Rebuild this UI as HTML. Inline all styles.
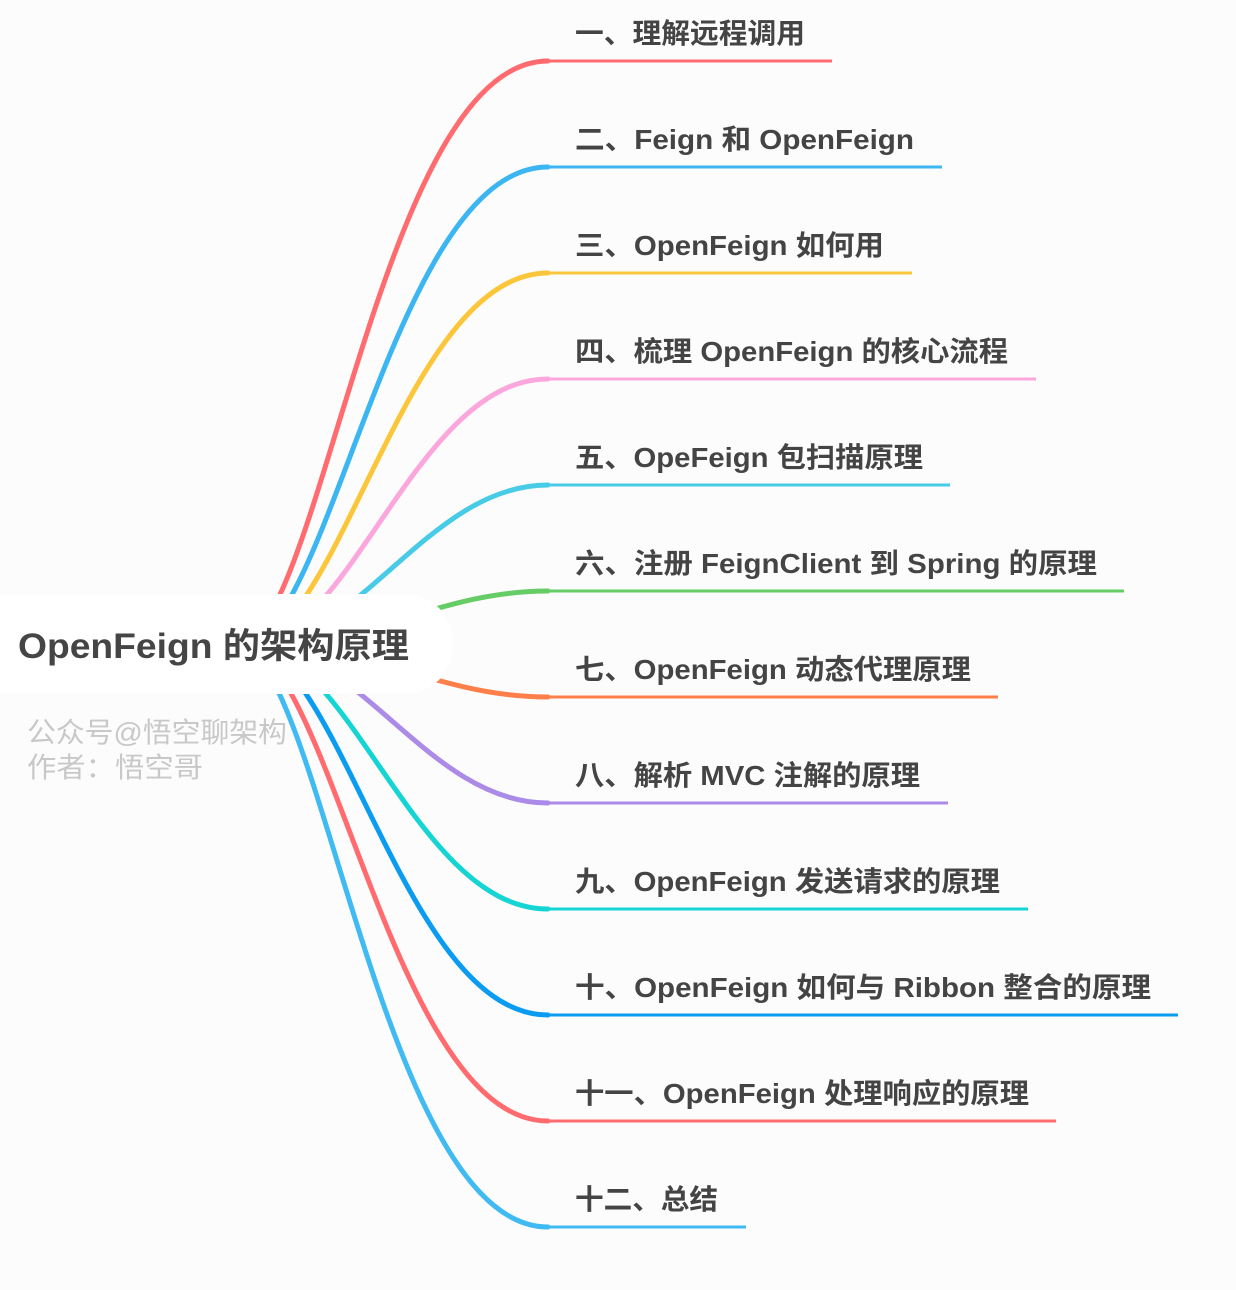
<!DOCTYPE html>
<html><head><meta charset="utf-8"><style>
html,body{margin:0;padding:0;background:#fcfcfc;}
body{width:1236px;height:1290px;position:relative;overflow:hidden;}
svg{position:absolute;left:0;top:0;}
.t{font-family:"Liberation Sans","Noto Sans CJK SC",sans-serif;font-weight:bold;font-size:28px;fill:#444;}
.w{font-family:"Liberation Sans","Noto Sans CJK SC",sans-serif;font-size:28px;fill:#c8c8c8;}
</style></head><body>
<svg width="1236" height="1290" viewBox="0 0 1236 1290">
<g fill="none" stroke-width="5" stroke-linecap="round">
<path d="M236,645 C320,645 380,61 548,61" stroke="#ff6b6e"/>
<path d="M240,645 C330,645 392,167 548,167" stroke="#3bb6f2"/>
<path d="M244,645 C340,645 404,273 548,273" stroke="#fcc63a"/>
<path d="M248,645 C350,645 416,379 548,379" stroke="#fba6dc"/>
<path d="M252,645 C360,645 428,485 548,485" stroke="#48cbe6"/>
<path d="M256,645 C370,645 440,591 548,591" stroke="#66cc66"/>
<path d="M256,645 C370,645 440,697 548,697" stroke="#ff7f4a"/>
<path d="M252,645 C360,645 428,803 548,803" stroke="#ab8ae8"/>
<path d="M248,645 C350,645 416,909 548,909" stroke="#14d4d4"/>
<path d="M244,645 C340,645 404,1015 548,1015" stroke="#0a9cf0"/>
<path d="M240,645 C330,645 392,1121 548,1121" stroke="#ff6b6e"/>
<path d="M236,645 C320,645 380,1227 548,1227" stroke="#40baf2"/>
</g>
<g stroke-width="3">
<line x1="546" y1="61" x2="832" y2="61" stroke="#ff6b6e"/>
<line x1="546" y1="167" x2="942" y2="167" stroke="#3bb6f2"/>
<line x1="546" y1="273" x2="912" y2="273" stroke="#fcc63a"/>
<line x1="546" y1="379" x2="1036" y2="379" stroke="#fba6dc"/>
<line x1="546" y1="485" x2="950" y2="485" stroke="#48cbe6"/>
<line x1="546" y1="591" x2="1124" y2="591" stroke="#66cc66"/>
<line x1="546" y1="697" x2="998" y2="697" stroke="#ff7f4a"/>
<line x1="546" y1="803" x2="948" y2="803" stroke="#ab8ae8"/>
<line x1="546" y1="909" x2="1028" y2="909" stroke="#14d4d4"/>
<line x1="546" y1="1015" x2="1178" y2="1015" stroke="#0a9cf0"/>
<line x1="546" y1="1121" x2="1056" y2="1121" stroke="#ff6b6e"/>
<line x1="546" y1="1227" x2="746" y2="1227" stroke="#40baf2"/>
</g>
<rect x="-40" y="594" width="493" height="100" rx="48" fill="#ffffff"/>
<text x="18" y="658" textLength="391" lengthAdjust="spacingAndGlyphs" font-family="Liberation Sans,'Noto Sans CJK SC',sans-serif" font-weight="bold" font-size="35" fill="#454545">OpenFeign 的架构原理</text>
<text class="w" x="27" y="742" textLength="260" lengthAdjust="spacingAndGlyphs">公众号@悟空聊架构</text>
<text class="w" x="27" y="777" textLength="176" lengthAdjust="spacingAndGlyphs">作者：悟空哥</text>
<text class="t" x="575" y="43" textLength="230" lengthAdjust="spacingAndGlyphs">一、理解远程调用</text>
<text class="t" x="575" y="149" textLength="339" lengthAdjust="spacingAndGlyphs">二、Feign 和 OpenFeign</text>
<text class="t" x="575" y="255" textLength="309" lengthAdjust="spacingAndGlyphs">三、OpenFeign 如何用</text>
<text class="t" x="575" y="361" textLength="433" lengthAdjust="spacingAndGlyphs">四、梳理 OpenFeign 的核心流程</text>
<text class="t" x="575" y="467" textLength="348" lengthAdjust="spacingAndGlyphs">五、OpeFeign 包扫描原理</text>
<text class="t" x="575" y="573" textLength="522" lengthAdjust="spacingAndGlyphs">六、注册 FeignClient 到 Spring 的原理</text>
<text class="t" x="575" y="679" textLength="396" lengthAdjust="spacingAndGlyphs">七、OpenFeign 动态代理原理</text>
<text class="t" x="575" y="785" textLength="345" lengthAdjust="spacingAndGlyphs">八、解析 MVC 注解的原理</text>
<text class="t" x="575" y="891" textLength="425" lengthAdjust="spacingAndGlyphs">九、OpenFeign 发送请求的原理</text>
<text class="t" x="575" y="997" textLength="576" lengthAdjust="spacingAndGlyphs">十、OpenFeign 如何与 Ribbon 整合的原理</text>
<text class="t" x="575" y="1103" textLength="454" lengthAdjust="spacingAndGlyphs">十一、OpenFeign 处理响应的原理</text>
<text class="t" x="575" y="1209" textLength="143" lengthAdjust="spacingAndGlyphs">十二、总结</text>
</svg>
</body></html>
